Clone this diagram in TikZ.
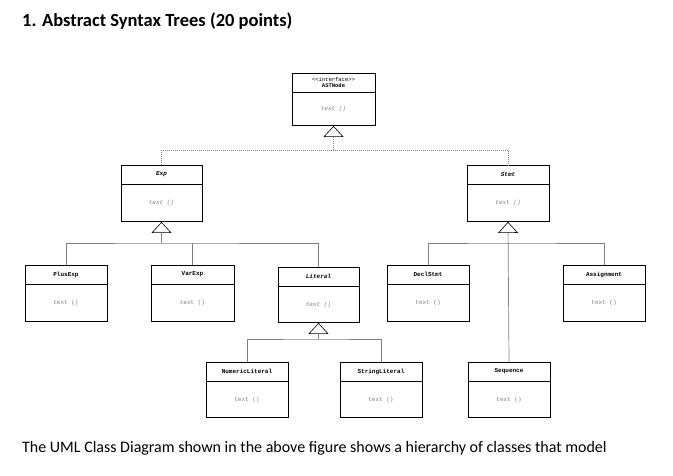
\documentclass[tikz,border=0pt]{standalone}
\usepackage{fontspec}
\setmainfont{Carlito}
\newfontfamily\codefont{Liberation Mono}
\usetikzlibrary{arrows.meta}
\tikzset{
  cls/.style={draw, line width=0.9pt, inner sep=0pt},
  ttl/.style={font=\codefont\fontsize{6}{7}\selectfont\bfseries},
  mth/.style={font=\codefont\fontsize{6}{7}\selectfont, text=gray},
  branch/.style={draw=gray, line width=0.7pt},
  gen/.style={branch, -{Triangle[open, length=11pt, width=20pt, color=black, line width=0.6pt]}},
  dashedbranch/.style={branch, dash pattern=on 1pt off 1pt},
  real/.style={gen, dash pattern=on 1pt off 1pt}
}
% \umlclass{name}{cx}{top}{w}{h}{header}{title}{method}
\newcommand{\umlclass}[8]{
  \node[cls, minimum width=#4pt, minimum height=#5pt, anchor=north] (#1) at (#2,#3) {};
  \draw[line width=0.9pt] ([yshift=-#6pt]#1.north west) -- ([yshift=-#6pt]#1.north east);
  \node[ttl] (#1-t) at ([yshift=-#6*0.5pt]#1.north) {#7};
  \node[mth] (#1-m) at ([yshift=-#6*0.5pt]#1.center) {#8};
}
\begin{document}
\begin{tikzpicture}[x=1pt, y=-1pt]
  \useasboundingbox (0,0) rectangle (673,476);
  \node[anchor=west, inner sep=0pt, font=\fontsize{18.5}{22}\selectfont\bfseries] (title) at (22,21) {1. Abstract Syntax Trees (20 points)};
  \node[anchor=west, inner sep=0pt, font=\fontsize{16}{19}\selectfont] (caption) at (22,448) {The UML Class Diagram shown in the above figure shows a hierarchy of classes that model};

  \node[cls, minimum width=83pt, minimum height=52pt, anchor=north] (ast) at (333.5,73) {};
  \draw[line width=0.9pt] ([yshift=-19pt]ast.north west) -- ([yshift=-19pt]ast.north east);
  \node[ttl, align=center, font=\codefont\fontsize{5.5}{6.5}\selectfont\bfseries] (ast-t) at ([yshift=-9.5pt]ast.north) {\textmd{<<interface>>}\\ASTNode};
  \node[mth, font=\codefont\itshape\fontsize{6}{7}\selectfont] (ast-m) at ([yshift=-9.5pt]ast.center) {text ()};

  \umlclass{exp}{161.5}{165}{81}{56}{19}{\itshape Exp}{\itshape text ()}
  \umlclass{stmt}{508}{165}{82}{56}{19}{\itshape Stmt}{\itshape text ()}
  \umlclass{plus}{66}{265}{82}{56}{19}{PlusExp}{text ()}
  \umlclass{var}{192.5}{265}{83}{56}{19}{VarExp}{text ()}
  \umlclass{lit}{318.5}{267}{81}{55}{19}{\itshape Literal}{\itshape text ()}
  \umlclass{decl}{428}{265}{82}{56}{19}{DeclStmt}{text ()}
  \umlclass{assign}{604}{265}{82}{56}{19}{Assignment}{text ()}
  \umlclass{num}{247}{362}{82}{55}{19}{NumericLiteral}{text ()}
  \umlclass{str}{381}{362}{82}{55}{19}{StringLiteral}{text ()}
  \umlclass{seq}{509}{362}{82}{55}{19}{Sequence}{text ()}

  \coordinate (astbar) at (333.5,150);
  \coordinate (expbar) at (161.5,243);
  \coordinate (stmtbar) at (508,243);
  \coordinate (litbar) at (318.5,339);

  \draw[dashedbranch] (exp.north) |- (astbar) -| (stmt.north);
  \draw[real] (astbar) -- (ast.south);
  \draw[branch] (plus.north) |- (expbar) -| (lit.north);
  \draw[branch] (var.north) -- (var.north |- expbar);
  \draw[gen] (expbar) -- (exp.south);
  \draw[branch] (decl.north) |- (stmtbar) -| (assign.north);
  \draw[gen] (seq.north) -- (stmt.south);
  \draw[branch] (num.north) |- (litbar) -| (str.north);
  \draw[gen] (litbar) -- (lit.south);
\end{tikzpicture}
\end{document}
